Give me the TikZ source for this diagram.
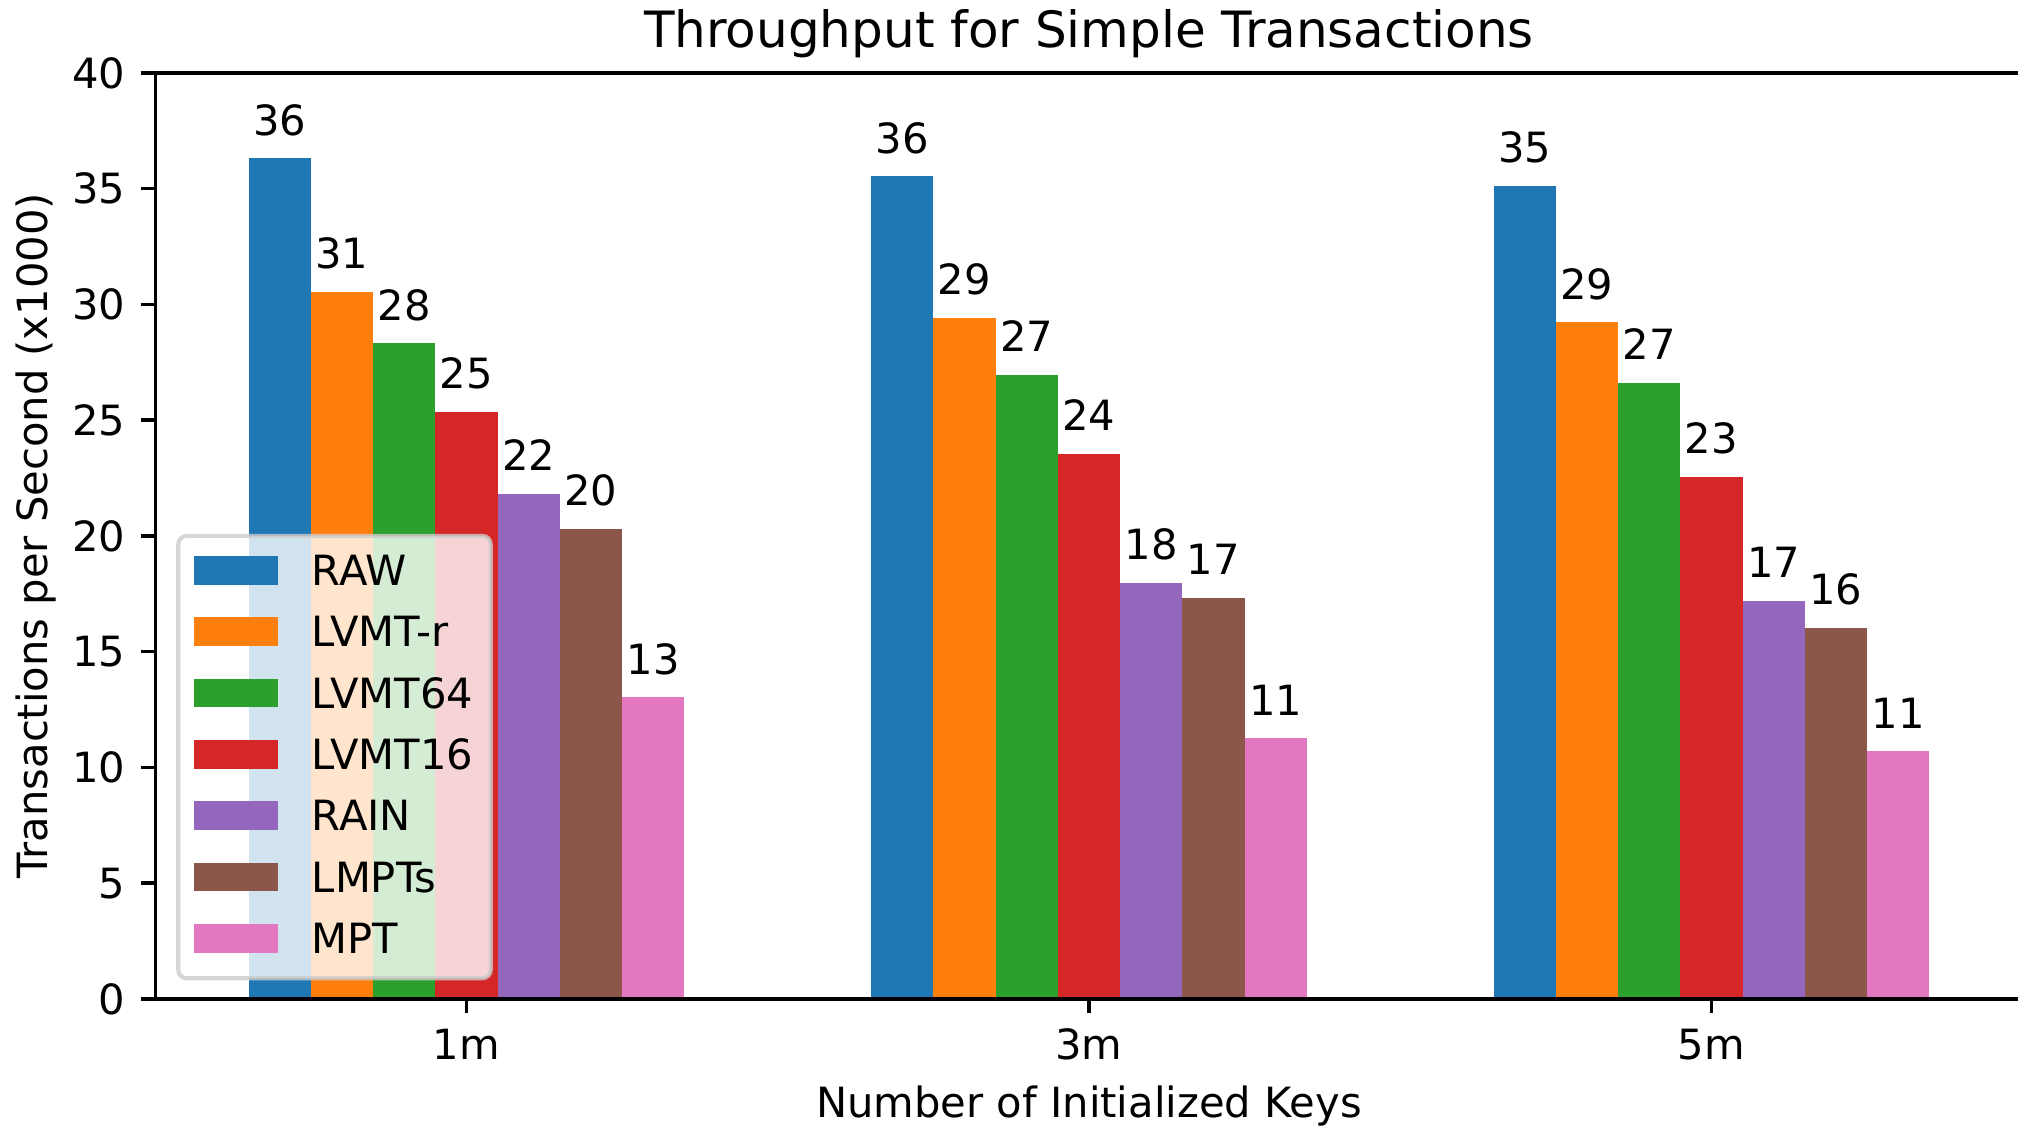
\documentclass[tikz,border=0pt]{standalone}
\usepackage{fontspec}
\setmainfont{DejaVu Sans}
\definecolor{c0}{HTML}{1F77B4}
\definecolor{c1}{HTML}{FF7F0E}
\definecolor{c2}{HTML}{2CA02C}
\definecolor{c3}{HTML}{D62728}
\definecolor{c4}{HTML}{9467BD}
\definecolor{c5}{HTML}{8C564B}
\definecolor{c6}{HTML}{E377C2}
\begin{document}
\begin{tikzpicture}[x=149.4pt,y=5.556pt,
  font=\fontsize{10}{12}\selectfont,
  spine/.style={line width=0.8pt, line cap=rect},
  tickmark/.style={line width=0.8pt},
  ylab/.style={anchor=east, inner sep=0pt, xshift=-7pt},
  xlab/.style={anchor=north, inner sep=0pt, yshift=-7pt},
  vlabel/.style={anchor=base, inner sep=0pt},
  legframe/.style={fill=white, fill opacity=0.8, draw=black!20, draw opacity=0.8, line width=1pt, rounded corners=2pt},
  legtext/.style={anchor=base west, inner sep=0pt}]
\useasboundingbox (-0.7494,-5.529) rectangle (2.4924,43.15);
% bars and value labels
\foreach \g/\i/\v/\t in {
  0/0/36.31/36, 0/1/30.53/31, 0/2/28.32/28, 0/3/25.37/25, 0/4/21.83/22, 0/5/20.30/20, 0/6/13.02/13,
  1/0/35.54/36, 1/1/29.43/29, 1/2/26.97/27, 1/3/23.54/24, 1/4/17.97/18, 1/5/17.32/17, 1/6/11.26/11,
  2/0/35.13/35, 2/1/29.23/29, 2/2/26.62/27, 2/3/22.55/23, 2/4/17.19/17, 2/5/16.04/16, 2/6/10.70/11}{
  \fill[c\i] ({\g+0.1*(\i-3)-0.05},0) rectangle ({\g+0.1*(\i-3)+0.05},\v);
  \node[vlabel] (val-\g-\i) at ({\g+0.1*(\i-3)},{\v+1.0}) {\t};
}
% spines
\draw[spine] (2.5,40) -- (-0.5,40) -- (-0.5,0) -- (2.5,0);
% y ticks
\foreach \v in {0,5,...,40}{
  \draw[tickmark] (-0.5,\v) -- ++(-3.5pt,0);
  \node[ylab] (yt-\v) at (-0.5,\v) {\v};
}
% x ticks
\foreach \g/\t in {0/1m,1/3m,2/5m}{
  \draw[tickmark] (\g,0) -- ++(0,-3.5pt);
  \node[xlab] (xt-\g) at (\g,0) {\t};
}
% axis labels and title
\node[anchor=north, inner sep=0pt] (xaxislabel) at (1,-3.72) {Number of Initialized Keys};
\node[anchor=south, rotate=90, inner sep=0pt] (yaxislabel) at (-0.6582,20) {Transactions per Second (x1000)};
\node[anchor=base, inner sep=0pt, font=\fontsize{12}{14}\selectfont] (title) at (1,41.08) {Throughput for Simple Transactions};
% legend
\draw[legframe] (-0.4630,0.894) rectangle (0.0389,20.0);
\foreach \n [count=\i from 0] in {RAW,LVMT-r,LVMT64,LVMT16,RAIN,LMPTs,MPT}{
  \pgfmathsetmacro{\yc}{18.52-2.65*\i}
  \fill[c\i] (-0.4378,{\yc-0.62}) rectangle (-0.3033,{\yc+0.62});
  \node[legtext] (leg-\i) at (-0.2498,{\yc-0.656}) {\n};
}
\end{tikzpicture}
\end{document}
